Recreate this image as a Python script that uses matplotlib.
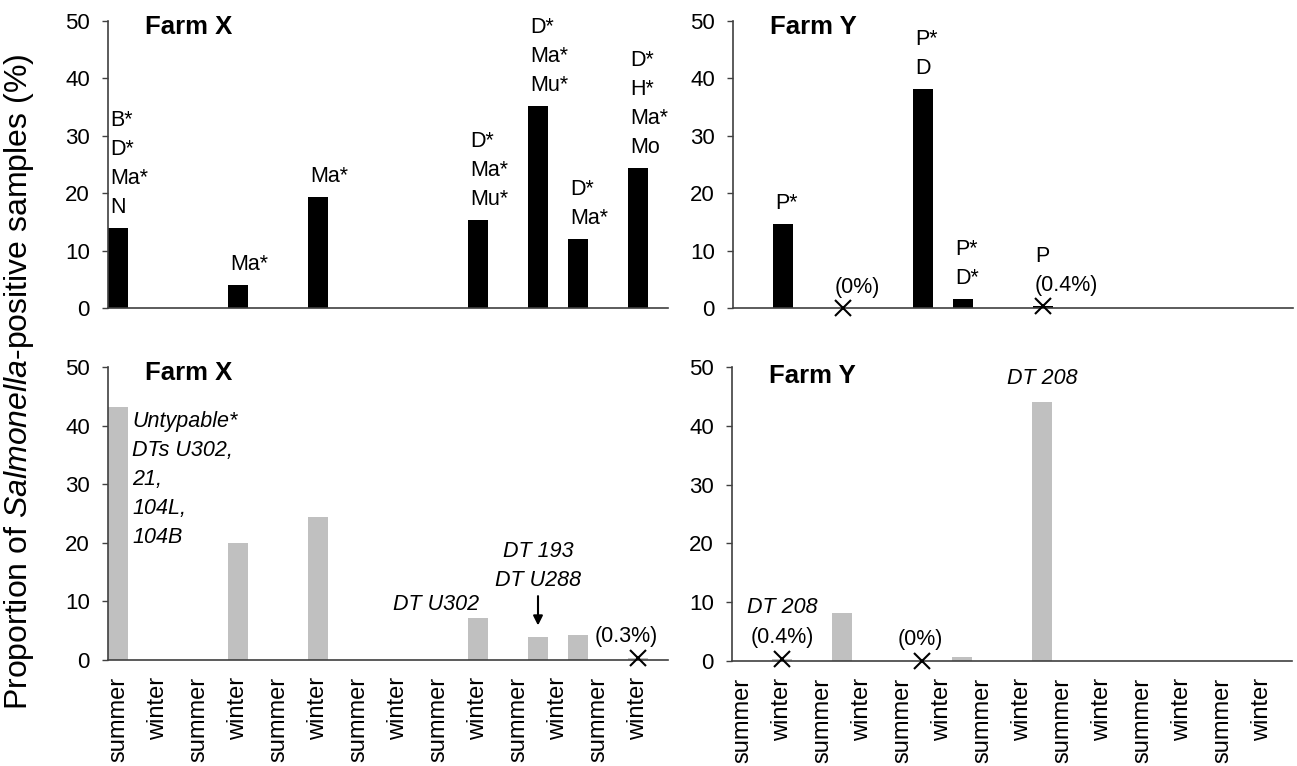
import numpy as np
import matplotlib.pyplot as plt

plt.rcParams['font.family'] = ['Liberation Sans', 'DejaVu Sans']
plt.rcParams['mathtext.fontset'] = 'custom'
plt.rcParams['mathtext.rm'] = 'Liberation Sans'
plt.rcParams['mathtext.it'] = 'Liberation Sans:italic'

seasons = ['summer', 'winter'] * 7

# 28 half-width slots along each axis, every second one carries a season label
farm_x_slots = [0, 6, 10, 18, 21, 23, 26]
farm_y_slots = [2, 5, 9, 11, 15]

# serotypes (top row)
farm_x_sero_pct = [13.9, 4.0, 19.4, 15.3, 35.2, 12.1, 24.4]
farm_x_sero_txt = ['B*\nD*\nMa*\nN', 'Ma*', 'Ma*', 'D*\nMa*\nMu*',
                   'D*\nMa*\nMu*', 'D*\nMa*', 'D*\nH*\nMa*\nMo']
farm_y_sero_pct = [14.6, 0.0, 38.1, 1.6, 0.4]
farm_y_sero_txt = ['P*', '(0%)', 'P*\nD', 'P*\nD*', 'P\n(0.4%)']

# phage types (bottom row)
farm_x_phage_pct = [43.1, 19.9, 24.4, 7.2, 4.0, 4.3, 0.3]
farm_x_phage_txt = ['Untypable*\nDTs U302,\n21,\n104L,\n104B', '', '',
                    'DT U302', 'DT 193\nDT U288', '', '(0.3%)']
farm_y_phage_pct = [0.4, 8.1, 0.0, 0.6, 44.1]
farm_y_phage_txt = ['DT 208\n(0.4%)', '', '(0%)', '', 'DT 208']

PX = 0.72  # pixels -> points at dpi 100
W, H = 1297, 766
fig = plt.figure(figsize=(W / 100, H / 100), dpi=100)


def px_axes(x0, x1, y_top, y_bot):
    return fig.add_axes([x0 / W, 1 - y_bot / H, (x1 - x0) / W, (y_bot - y_top) / H])


def slot_x(slots):
    return np.array(slots) * 0.5 + 0.25


def style(ax, title, show_labels, title_y):
    ax.set_xlim(0, 14)
    ax.set_ylim(0, 50)
    ax.set_yticks(range(0, 51, 10))
    for s in ['top', 'right']:
        ax.spines[s].set_visible(False)
    for s in ['left', 'bottom']:
        ax.spines[s].set_color('#404040')
        ax.spines[s].set_linewidth(1.2)
    ax.tick_params(axis='y', length=4, width=1, color='#404040', pad=9, labelsize=16)
    ax.set_xticks(np.arange(14) + 0.25)
    if show_labels:
        ax.set_xticklabels(seasons, rotation=90, fontsize=17)
    else:
        ax.set_xticklabels([])
    ax.tick_params(axis='x', length=0, pad=12)
    ax.text(0.066, title_y, title, transform=ax.transAxes, fontsize=18.5,
            fontweight='bold', va='center', ha='left')


def bars(ax, slots, pct, txt, color):
    x = slot_x(slots)
    ax.bar(x, pct, width=0.52, color=color, zorder=2)
    for xi, v, t in zip(x, pct, txt):
        if '%' in t:
            ax.plot(xi, v, marker='x', color='black', ms=11, mew=1.5, zorder=3,
                    clip_on=False)


ax_tl = px_axes(108, 668, 21, 308)
ax_tr = px_axes(733, 1293, 21, 308)
ax_bl = px_axes(108, 668, 367, 660)
ax_br = px_axes(732, 1292, 367, 661)

style(ax_tl, 'Farm X', False, 0.979)
style(ax_tr, 'Farm Y', False, 0.979)
style(ax_bl, 'Farm X', True, 0.979)
style(ax_br, 'Farm Y', True, 0.969)

bars(ax_tl, farm_x_slots, farm_x_sero_pct, farm_x_sero_txt, 'black')
bars(ax_tr, farm_y_slots, farm_y_sero_pct, farm_y_sero_txt, 'black')
bars(ax_bl, farm_x_slots, farm_x_phage_pct, farm_x_phage_txt, '#c0c0c0')
bars(ax_br, farm_y_slots, farm_y_phage_pct, farm_y_phage_txt, '#c0c0c0')

FS = 15.5
LS = 1.5

# serotype labels sit left-aligned over the bar
for ax, slots, pct, txt in [(ax_tl, farm_x_slots, farm_x_sero_pct, farm_x_sero_txt),
                            (ax_tr, farm_y_slots, farm_y_sero_pct, farm_y_sero_txt)]:
    for xi, v, t in zip(slot_x(slots), pct, txt):
        ax.annotate(t, (xi, v), xytext=(-8 * PX, 10 * PX), textcoords='offset points',
                    ha='left', va='bottom', fontsize=FS, linespacing=LS)

# phage type labels, placed one by one
bl_layout = [('left', 'top', 14, -4), None, None, ('right', 'bottom', 1, 3),
             ('center', 'bottom', 0, 46), None, ('center', 'bottom', -12, 11)]
br_layout = [('center', 'bottom', 0, 11), None, ('center', 'bottom', -2, 11), None,
             ('center', 'bottom', 0, 13)]

for ax, slots, pct, txt, lay in [(ax_bl, farm_x_slots, farm_x_phage_pct, farm_x_phage_txt, bl_layout),
                                 (ax_br, farm_y_slots, farm_y_phage_pct, farm_y_phage_txt, br_layout)]:
    for xi, v, t, l in zip(slot_x(slots), pct, txt, lay):
        if l is None:
            continue
        ha, va, dx, dy = l
        lines = t.split('\n')
        # the "(x%)" parts are upright, DT names are italic
        if '%' in lines[-1] and len(lines) > 1:
            ax.annotate(lines[-1], (xi, v), xytext=(dx * PX, dy * PX), textcoords='offset points',
                        ha=ha, va=va, fontsize=FS)
            ax.annotate('\n'.join(lines[:-1]), (xi, v), xytext=(dx * PX, (dy + 30) * PX),
                        textcoords='offset points', ha=ha, va=va, fontsize=FS, style='italic')
        elif '%' in t:
            ax.annotate(t, (xi, v), xytext=(dx * PX, dy * PX), textcoords='offset points',
                        ha=ha, va=va, fontsize=FS)
        elif 'DT 193' in t:
            ax.annotate(t, (xi, v), xytext=(dx * PX, dy * PX), textcoords='offset points',
                        ha=ha, va=va, fontsize=FS, style='italic', linespacing=LS,
                        arrowprops=dict(arrowstyle='-|>', color='black', lw=1.5,
                                        shrinkA=2, shrinkB=8, mutation_scale=14))
        else:
            ax.annotate(t, (xi, v), xytext=(dx * PX, dy * PX), textcoords='offset points',
                        ha=ha, va=va, fontsize=FS, style='italic', linespacing=LS)

fig.text(0.015, 0.502, 'Proportion of $\\it{Salmonella}$-positive samples (%)',
         rotation=90, ha='center', va='center', fontsize=23)

fig.savefig('out.png', dpi=100)
